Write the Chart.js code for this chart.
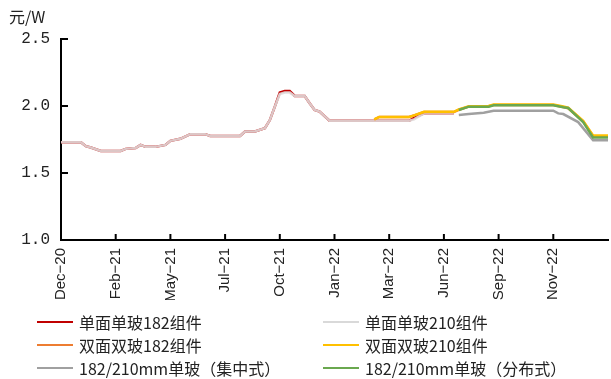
<!DOCTYPE html>
<html>
<head>
<meta charset="utf-8">
<script src="https://cdn.jsdelivr.net/npm/chart.js@4.4.0/dist/chart.umd.min.js"></script>
<style>
  body { margin: 0; background: #fff; }
  #wrap { position: relative; width: 611px; height: 379px; }
  #unit { position: absolute; left: 9px; top: 4px; font: 16px "Noto Sans CJK SC"; color: #222; }
  .item { position: absolute; height: 22px; display: flex; align-items: center; font: 16px "Noto Sans CJK SC"; color: #222; white-space: nowrap; }
  .item .line { display: inline-block; width: 36px; height: 2px; margin-right: 6px; }
</style>
</head>
<body>
<div id="wrap">
  <canvas id="chart" width="611" height="379"></canvas>
  <div id="unit">元/W</div>
  <div id="legend"></div>
</div>
<script>
// tick labels, one every 11 weeks
const tickLabels = ['Dec−20', 'Feb−21', 'May−21', 'Jul−21', 'Oct−21', 'Jan−22', 'Mar−22', 'Jun−22', 'Sep−22', 'Nov−22'];
const tickStep = 11;

const names = ['单面单玻182组件', '单面单玻210组件', '双面双玻182组件', '双面双玻210组件', '182/210mm单玻（集中式）', '182/210mm单玻（分布式）'];

// [week, 元/W]
const mono182 = [[0,1.73],[4,1.73],[5,1.70],[6,1.69],[8,1.665],[12,1.665],[13,1.68],[15,1.687],[16,1.71],[17,1.695],[19,1.695],[21,1.71],[22,1.74],[24,1.755],[26,1.79],[29,1.79],[30,1.776],[36,1.776],[37,1.81],[39,1.81],[41,1.835],[42,1.895],[43,1.995],[44,2.10],[45,2.112],[46,2.112],[47,2.075],[49,2.075],[50,2.02],[51,1.97],[52,1.958],[54,1.89],[70,1.89],[71,1.912],[73,1.945],[79,1.945]];
const mono210 = [[0,1.73],[4,1.73],[5,1.70],[6,1.69],[8,1.665],[12,1.665],[13,1.68],[15,1.687],[16,1.71],[17,1.695],[19,1.695],[21,1.71],[22,1.74],[24,1.755],[26,1.79],[29,1.79],[30,1.776],[36,1.776],[37,1.81],[39,1.81],[41,1.835],[42,1.895],[43,1.995],[44,2.09],[45,2.10],[46,2.10],[47,2.075],[49,2.075],[50,2.02],[51,1.97],[52,1.958],[54,1.89],[70,1.89],[71,1.90],[73,1.945],[79,1.945]];
const bi182 = [[63,1.90],[64,1.918],[70,1.918],[71,1.93],[73,1.955],[79,1.955],[80,1.972],[82,1.995],[86,1.998],[87,2.008],[99,2.008],[101,1.993],[102,1.983],[105,1.885],[107,1.775],[110,1.775]];
const bi210 = [[63,1.90],[64,1.918],[70,1.918],[71,1.93],[73,1.957],[79,1.957],[80,1.975],[82,1.998],[86,2.0],[87,2.012],[99,2.012],[101,1.997],[102,1.987],[105,1.89],[107,1.78],[110,1.78]];
const central = [[80,1.933],[82,1.94],[85,1.95],[87,1.965],[99,1.965],[100,1.945],[101,1.94],[104,1.88],[107,1.745],[110,1.745]];
const distributed = [[80,1.97],[82,1.995],[86,1.995],[87,2.005],[99,2.005],[101,1.99],[102,1.985],[105,1.88],[107,1.765],[110,1.765]];

const series = [mono182, mono210, bi182, bi210, central, distributed];
const colors = ['#c00000', 'rgba(224,220,220,0.9)', '#ed7d31', '#ffc000', '#a0a0a0', '#6aa84f'];
const legendColors = ['#c00000', '#d9d9d9', '#ed7d31', '#ffc000', '#a0a0a0', '#6aa84f'];
const drawOrder = [6, 5, 4, 3, 2, 1];

// inward tick marks
const innerTicks = {
    id: 'innerTicks',
    afterDraw(chart) {
        const { ctx, chartArea, scales } = chart;
        ctx.save();
        ctx.strokeStyle = '#000';
        ctx.lineWidth = 2;
        [1.5, 2.0, 2.5].forEach(v => {
            const y = scales.y.getPixelForValue(v);
            ctx.beginPath();
            ctx.moveTo(chartArea.left, y);
            ctx.lineTo(chartArea.left + 7, y);
            ctx.stroke();
        });
        for (let k = 1; k < tickLabels.length; k++) {
            const x = scales.x.getPixelForValue(k * tickStep);
            ctx.beginPath();
            ctx.moveTo(x, chartArea.bottom);
            ctx.lineTo(x, chartArea.bottom - 6);
            ctx.stroke();
        }
        ctx.restore();
    }
};

new Chart(document.getElementById('chart'), {
    type: 'line',
    data: {
        datasets: series.map((s, i) => ({
            label: names[i],
            data: s.map(([x, y]) => ({ x, y })),
            borderColor: colors[i],
            borderWidth: 2.5,
            pointRadius: 0,
            tension: 0,
            fill: false,
            order: drawOrder[i]
        }))
    },
    options: {
        responsive: false,
        animation: false,
        layout: { padding: { top: 39, right: 3, bottom: 79, left: 0 } },
        plugins: { legend: { display: false }, tooltip: { enabled: false } },
        scales: {
            x: {
                type: 'linear',
                min: 0,
                max: 110,
                grid: { display: false },
                border: { display: true, color: '#000', width: 2 },
                afterFit: s => { s.height = 60; },
                ticks: {
                    stepSize: tickStep,
                    autoSkip: false,
                    minRotation: 90,
                    maxRotation: 90,
                    padding: 0,
                    color: '#222',
                    font: { family: 'Liberation Sans', size: 15 },
                    callback: v => (v % tickStep === 0 ? tickLabels[v / tickStep] : null)
                }
            },
            y: {
                min: 1,
                max: 2.5,
                grid: { display: false },
                border: { display: true, color: '#000', width: 2 },
                afterFit: s => { s.width = 61; },
                ticks: {
                    stepSize: 0.5,
                    padding: 3,
                    color: '#222',
                    font: { family: "'Liberation Mono'", size: 16 },
                    callback: v => v.toFixed(1)
                }
            }
        }
    },
    plugins: [innerTicks]
});

// legend: two columns, three rows
const legend = document.getElementById('legend');
const colX = [37, 323];
const rowY = [311, 334, 357];
names.forEach((n, i) => {
    const d = document.createElement('div');
    d.className = 'item';
    d.style.left = colX[i % 2] + 'px';
    d.style.top = rowY[Math.floor(i / 2)] + 'px';
    d.innerHTML = '<span class="line" style="background:' + legendColors[i] + '"></span>' + n;
    legend.appendChild(d);
});
</script>
</body>
</html>
